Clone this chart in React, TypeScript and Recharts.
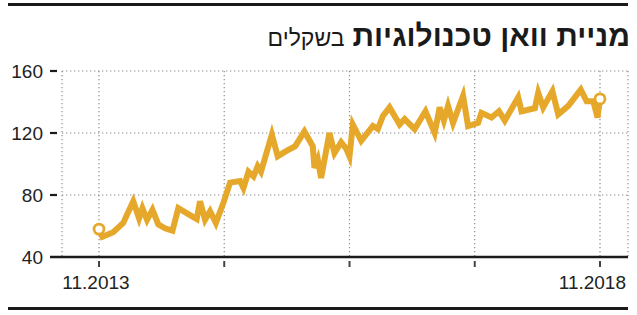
import React from "react";
import { LineChart, Line, XAxis, YAxis, CartesianGrid } from "recharts";

// months since 11.2013
const months = [0, 0.4, 1.7, 2.9, 4.1, 4.8, 5.2, 5.75, 6.4, 7.1, 7.9, 8.8, 9.5, 10.9, 11.7, 12.1, 12.7, 13.3, 14.0, 14.9, 15.7, 16.9, 17.3, 17.9, 18.5, 19.0, 19.4, 20.7, 21.4, 22.3, 23.5, 24.6, 25.6, 25.8, 26.2, 26.6, 27.6, 28.2, 29.0, 29.6, 30.0, 30.4, 31.4, 32.8, 33.4, 34.0, 34.8, 36.0, 36.6, 37.8, 39.1, 40.2, 40.8, 41.3, 41.8, 42.4, 43.6, 44.2, 45.4, 45.8, 47.0, 47.9, 48.6, 50.2, 50.6, 51.4, 52.2, 52.6, 53.2, 54.3, 55.0, 56.2, 57.7, 58.4, 59.2, 59.7, 60];
const prices = [58, 53, 56, 62, 76, 65, 71.5, 64, 70.5, 61, 58.5, 57, 71.5, 67, 64.5, 76, 64, 69.5, 62, 75, 88, 89, 84.5, 95, 92, 98.5, 95, 119, 105, 108, 111.5, 121, 111.5, 97.5, 103, 91, 120, 107, 114, 110, 105, 125.5, 115, 124.5, 122.5, 131, 136.5, 125.5, 129, 122.5, 134, 120, 136.5, 128, 137.5, 126.5, 144, 124.5, 126.5, 133, 130, 134, 128, 143, 134, 135, 136, 146, 136.5, 147, 132, 137.5, 148, 140.5, 140.5, 130, 142];

const xTicks = [0, 15, 30, 45, 60];
const xTickLabels = ["11.2013", "", "", "", "11.2018"];
const yTicks = [40, 80, 120, 160];

const TITLE_BOLD = "מניית וואן טכנולוגיות";
const TITLE_UNIT = "בשקלים";

const data = months.map((m, i) => ({ m, v: prices[i] }));

const LINE_COLOR = "#E6A82A";
const FONT = "'Liberation Sans', Arial, sans-serif";

const YTick = (props: any) => {
  const { x, y, payload } = props;
  const isBase = payload.value === 40;
  return (
    <g>
      <text x={x - 19} y={y} dy="0.36em" textAnchor="end" fontSize={19} fill="#222" fontFamily={FONT}>
        {payload.value}
      </text>
      {isBase ? (
        <line x1={x - 12} x2={x} y1={y} y2={y} stroke="#1a1a1a" strokeWidth={2.5} />
      ) : (
        <line x1={x - 12} x2={x - 5} y1={y} y2={y} stroke="#1a1a1a" strokeWidth={2.2} />
      )}
    </g>
  );
};

const XTick = (props: any) => {
  const { x, y, index } = props;
  const label = xTickLabels[index] || "";
  const last = index === xTicks.length - 1;
  return (
    <g>
      <line x1={x} x2={x} y1={y + 4} y2={y + 10} stroke="#444" strokeWidth={2} />
      {label && (
        <text
          x={last ? x + 26 : x - 3}
          y={y + 32}
          textAnchor={last ? "end" : "middle"}
          fontSize={19}
          fill="#222"
          fontFamily={FONT}
        >
          {label}
        </text>
      )}
    </g>
  );
};

const EndDot = (props: any) => {
  const { cx, cy, index } = props;
  if (index !== 0 && index !== data.length - 1) return <g key={index} />;
  return <circle key={index} cx={cx} cy={cy} r={5} fill="#fff" stroke={LINE_COLOR} strokeWidth={2.8} />;
};

export default function App() {
  return (
    <div style={{ position: "absolute", left: 0, top: 0, width: 637, height: 315, background: "#fff", fontFamily: FONT }}>
      <div style={{ position: "absolute", left: 8, top: 3, width: 620, height: 2.5, background: "#1a1a1a" }} />
      <div
        style={{
          position: "absolute",
          right: 7,
          top: 21,
          direction: "rtl",
          fontSize: 30,
          lineHeight: "30px",
          color: "#1a1a1a",
          whiteSpace: "nowrap",
        }}
      >
        <span style={{ fontWeight: 700 }}>{TITLE_BOLD}</span>
        <span style={{ fontWeight: 400, fontSize: 23, marginRight: 8 }}>{TITLE_UNIT}</span>
      </div>
      <div style={{ position: "absolute", left: 0, top: 0 }}>
        <LineChart width={637} height={315} data={data} margin={{ top: 71, right: 9, bottom: 18, left: 0 }}>
          <CartesianGrid stroke="#8a8a8a" strokeDasharray="1.3 2.7" strokeWidth={1.2} />
          <XAxis
            dataKey="m"
            type="number"
            domain={[0, 60]}
            ticks={xTicks}
            padding={{ left: 37, right: 28 }}
            height={40}
            tickSize={0}
            tickMargin={0}
            tickLine={false}
            axisLine={{ stroke: "#1a1a1a", strokeWidth: 2.5 }}
            tick={<XTick />}
            interval={0}
          />
          <YAxis
            domain={[40, 160]}
            ticks={yTicks}
            width={62}
            tickSize={0}
            tickMargin={0}
            tickLine={false}
            axisLine={false}
            tick={<YTick />}
            interval={0}
          />
          <Line
            type="linear"
            dataKey="v"
            stroke={LINE_COLOR}
            strokeWidth={6}
            dot={<EndDot />}
            activeDot={false}
            isAnimationActive={false}
          />
        </LineChart>
      </div>
      <div style={{ position: "absolute", left: 8, top: 307, width: 620, height: 2.5, background: "#1a1a1a" }} />
    </div>
  );
}
